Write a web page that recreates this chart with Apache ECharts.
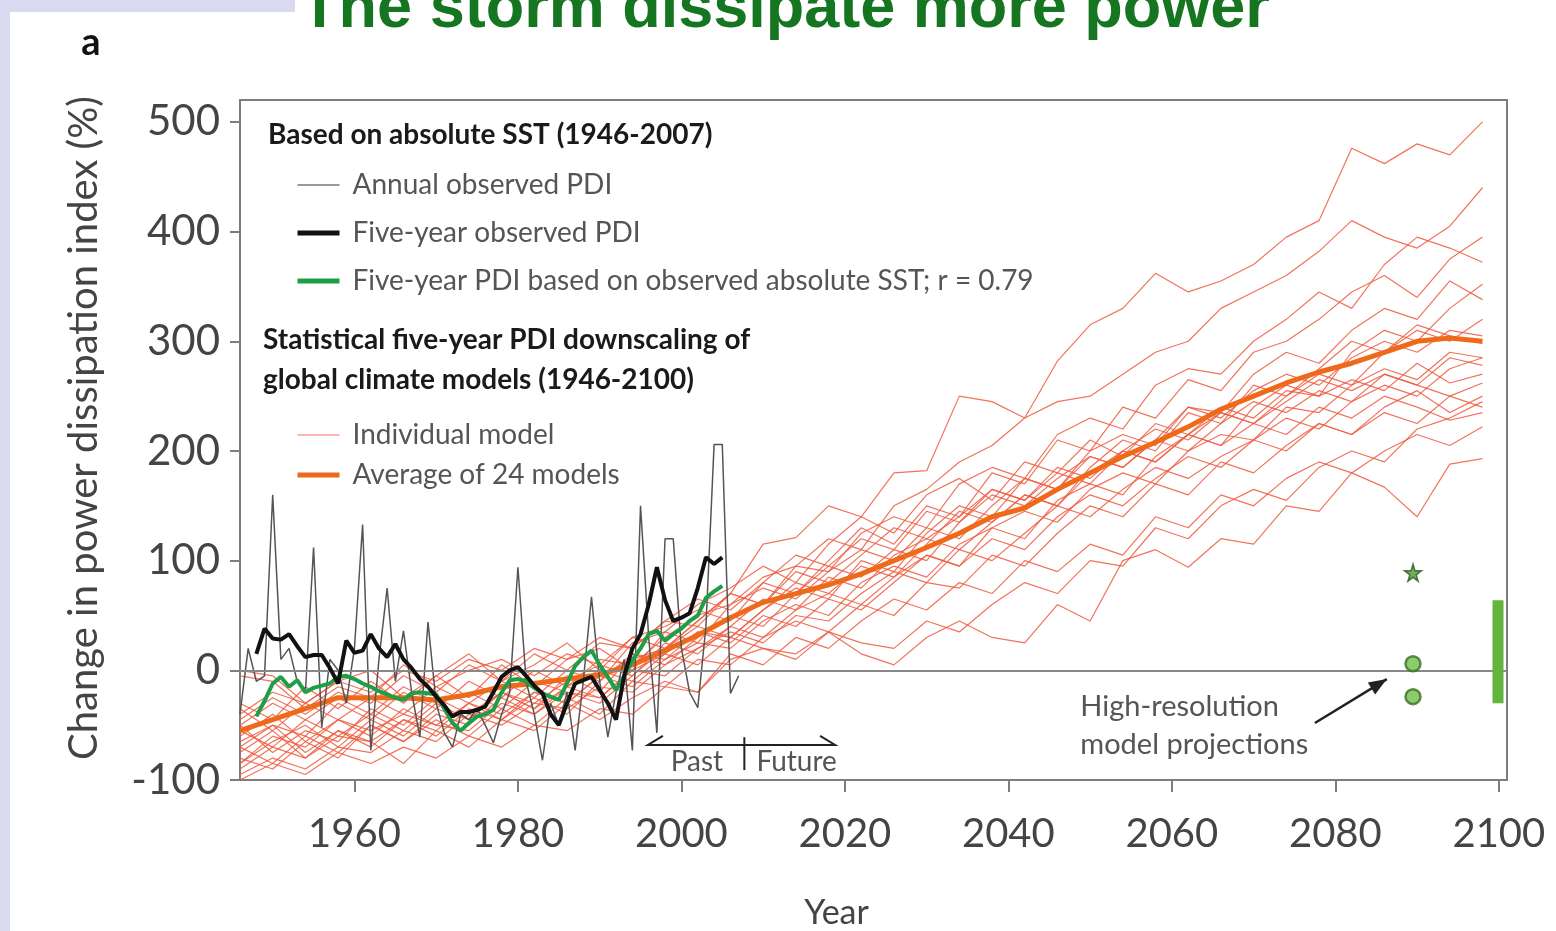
<!DOCTYPE html>
<html>
<head>
<meta charset="utf-8">
<title>The storm dissipate more power</title>
<script src="https://cdn.jsdelivr.net/npm/echarts@6.0.0/dist/echarts.min.js"></script>
<style>
  html, body { margin: 0; padding: 0; background: #fff; }
  #chart { width: 1556px; height: 931px; }
</style>
</head>
<body>
<div id="chart"></div>
<script>
// values (change in PDI, %)
const annualStart = 1946
const annualPDI = [-40, 20, -10, -5, 160, 10, 20, -10, -20, 112,
  -52, 10, 0, -30, 20, 133, -73, 10, 75, -10,
  36, -20, -61, 44, -30, -57, -70, -40, -45, -35,
  -50, -66, -40, -20, 94, -10, -40, -82, -30, -50,
  -20, -73, -10, 67, -10, -61, -20, 10, -73, 150,
  30, -57, 120, 120, 20, -20, -34, 40, 206, 206,
  -21, -5]

const fiveYearStart = 1948
const fiveYearPDI = [15, 38, 29, 28, 33, 22, 12, 14, 14, 2,
  -12, 27, 16, 18, 33, 20, 12, 24, 10, 2,
  -8, -15, -24, -32, -42, -38, -38, -36, -33, -20,
  -6, 0, 3, -5, -14, -21, -40, -50, -30, -12,
  -9, -6, -18, -30, -45, -5, 20, 33, 60, 94,
  64, 45, 48, 52, 75, 103, 97, 103]
const fiveYearSST = [-42, -28, -12, -6, -15, -9, -20, -16, -14, -12,
  -6, -5, -8, -12, -15, -19, -22, -25, -27, -21,
  -20, -21, -22, -35, -48, -55, -48, -42, -40, -36,
  -20, -9, -8, -10, -16, -21, -24, -27, -12, 4,
  12, 18, 5, -6, -18, -5, 9, 20, 33, 36,
  27, 33, 38, 45, 50, 66, 72, 77]

const modelYears = [1946, 1950, 1954, 1958, 1962, 1966, 1970, 1974, 1978, 1982,
  1986, 1990, 1994, 1998, 2002, 2006, 2010, 2014, 2018, 2022,
  2026, 2030, 2034, 2038, 2042, 2046, 2050, 2054, 2058, 2062,
  2066, 2070, 2074, 2078, 2082, 2086, 2090, 2094, 2098]
const modelAverage = [-55, -45, -35, -25, -25, -25, -27, -22, -15, -12,
  -8, -4, 5, 18, 32, 48, 62, 70, 78, 88,
  100, 112, 125, 140, 148, 165, 180, 195, 208, 222,
  238, 250, 262, 272, 280, 290, 300, 303, 300]

const model01 = [-40, -20, -30, -10, -20, 0, -10, 10, 0, 20, 10, 30, 20, 45, 40, 70, 115, 121, 150, 140, 180, 182, 250, 245, 230, 282, 315, 330, 362, 345, 355, 370, 395, 410, 476, 462, 480, 470, 500]
const model02 = [-70, -50, -60, -30, -45, -20, -35, -10, -25, 0, -15, 10, 5, 30, 50, 60, 85, 95, 120, 110, 150, 165, 190, 205, 230, 245, 250, 270, 290, 300, 330, 345, 360, 382, 410, 395, 385, 405, 440]
const model03 = [0, -5, -30, -10, 0, -25, -5, 15, -10, 5, 25, 0, 30, 40, 55, 45, 80, 70, 100, 130, 115, 150, 140, 180, 170, 210, 200, 240, 230, 265, 255, 290, 300, 320, 345, 360, 340, 375, 395]
const model04 = [-85, -60, -70, -45, -55, -40, -50, -30, -40, -20, -30, -5, 10, 20, 45, 70, 60, 95, 90, 125, 140, 130, 170, 185, 175, 215, 230, 220, 260, 275, 270, 300, 320, 345, 330, 370, 395, 385, 372]
const model05 = [-50, -75, -55, -65, -35, -50, -25, -40, -20, -35, -5, -20, 15, 10, 35, 30, 55, 75, 65, 100, 90, 125, 150, 140, 175, 165, 200, 215, 205, 240, 235, 270, 290, 280, 310, 330, 320, 355, 338]
const model06 = [-95, -80, -90, -70, -75, -55, -65, -40, -50, -30, -35, -15, -20, 5, 20, 40, 30, 55, 70, 60, 85, 105, 95, 130, 145, 135, 165, 180, 170, 200, 215, 210, 240, 235, 260, 275, 265, 290, 285]
const model07 = [-30, -45, -15, -35, -10, -30, -5, -25, 5, -15, 10, 20, 0, 35, 60, 75, 95, 80, 115, 140, 125, 160, 175, 155, 190, 180, 210, 195, 225, 215, 240, 230, 255, 250, 265, 255, 280, 262, 270]
const model08 = [-60, -40, -65, -45, -60, -35, -50, -55, -30, -40, -20, -25, 0, -5, 20, 35, 25, 50, 45, 70, 90, 80, 110, 100, 125, 150, 140, 165, 185, 175, 195, 210, 200, 225, 215, 240, 255, 235, 250]
const model09 = [-80, -90, -65, -80, -50, -65, -45, -60, -35, -50, -25, -40, -10, -15, 10, 5, 30, 45, 35, 60, 50, 80, 75, 105, 95, 125, 150, 140, 170, 160, 190, 180, 205, 225, 215, 235, 225, 250, 240]
const model10 = [-45, -25, -40, -20, -30, -5, -20, 5, -10, 15, 0, 25, 20, 45, 65, 55, 80, 105, 95, 120, 110, 145, 135, 165, 155, 185, 175, 200, 190, 215, 205, 225, 215, 240, 230, 250, 240, 228, 235]
const model11 = [-100, -85, -95, -75, -85, -70, -80, -60, -70, -50, -55, -35, -40, -15, -20, 10, 20, 15, 35, 15, 5, 30, 45, 30, 25, 60, 45, 100, 110, 94, 120, 115, 150, 145, 180, 167, 140, 188, 193]
const model12 = [-65, -50, -75, -55, -70, -45, -60, -35, -45, -25, -40, -10, 15, 5, 30, 50, 40, 70, 95, 85, 110, 100, 135, 160, 150, 175, 195, 185, 210, 200, 225, 245, 235, 255, 245, 270, 260, 250, 262]
const model13 = [-75, -55, -80, -60, -65, -85, -55, -70, -45, -55, -30, -45, -25, -10, -20, 15, 5, 30, 20, 45, 65, 55, 80, 70, 100, 90, 115, 105, 140, 130, 160, 150, 175, 190, 180, 200, 215, 205, 222]
const model14 = [-35, -55, -30, -45, -25, -40, -15, -30, -10, -25, 0, -10, 25, 35, 25, 60, 75, 65, 90, 110, 100, 130, 120, 150, 175, 165, 195, 185, 210, 240, 230, 255, 270, 260, 285, 300, 290, 310, 305]
const model15 = [-55, -70, -45, -60, -40, -55, -30, -45, -20, -30, -10, 5, -5, 25, 15, 40, 65, 55, 85, 75, 105, 120, 110, 135, 160, 150, 180, 200, 190, 215, 235, 225, 250, 270, 260, 290, 310, 300, 320]
const model16 = [-90, -70, -80, -55, -65, -45, -55, -30, -45, -20, -30, -5, -15, 10, 25, 20, 45, 60, 50, 80, 95, 85, 115, 130, 120, 155, 170, 160, 195, 215, 205, 240, 260, 250, 290, 310, 300, 330, 352]
const model17 = [-5, -10, -35, -15, -25, 5, -15, 0, 10, -5, 15, 5, 30, 20, 45, 70, 60, 90, 80, 105, 130, 120, 140, 165, 155, 180, 170, 200, 220, 210, 235, 225, 245, 265, 255, 270, 260, 285, 278]
const model18 = [-70, -85, -60, -75, -50, -65, -40, -50, -25, -40, -15, -25, 0, 15, 5, 30, 20, 10, 35, 25, 20, 45, 35, 60, 80, 70, 100, 95, 130, 120, 150, 165, 155, 185, 200, 190, 220, 230, 245]
const model19 = [-50, -30, -45, -25, -40, -15, -30, -20, -35, -10, -20, -30, -5, 20, 40, 30, 55, 80, 70, 95, 85, 115, 145, 135, 160, 150, 185, 210, 200, 235, 225, 260, 250, 275, 300, 290, 315, 305, 298]
const model20 = [-85, -65, -50, -70, -45, -60, -35, -45, -20, -35, -15, 0, -10, 15, 35, 25, 50, 40, 65, 55, 80, 105, 95, 120, 110, 140, 160, 150, 175, 195, 185, 210, 230, 220, 245, 260, 250, 275, 285]

// high-resolution model projections
const hiResYear = 2089.5
const hiResStar = [89]
const hiResDots = [6, -24]
const rangeYear = 2099.9
const rangeBar = [-30, 64]

const xTicks = [1960, 1980, 2000, 2020, 2040, 2060, 2080, 2100]
const yTicks = [-100, 0, 100, 200, 300, 400, 500]

const models = [model01, model02, model03, model04, model05, model06, model07, model08, model09, model10,
  model11, model12, model13, model14, model15, model16, model17, model18, model19, model20]

const byYear = (start, arr) => arr.map((v, i) => [start + i, v])
const onModelYears = arr => modelYears.map((y, i) => [y, arr[i]])

const textColor = '#444'
const frameColor = '#7d7d7d'
const starPath = 'path://M50,0 L61,35 L98,35 L68,57 L79,91 L50,70 L21,91 L32,57 L2,35 L39,35 Z'

const chart = echarts.init(document.getElementById('chart'))

const series = []
models.forEach(m => {
  series.push({
    name: 'Individual model',
    type: 'line',
    data: onModelYears(m),
    symbol: 'none',
    silent: true,
    z: 2,
    itemStyle: { color: '#ee5a3e' },
    lineStyle: { width: 1.2, color: '#ef5b40', opacity: 0.85 }
  })
})
series.push({
  name: 'Average of 24 models',
  type: 'line',
  data: onModelYears(modelAverage),
  symbol: 'none',
  z: 3,
  itemStyle: { color: '#ee6a1a' },
  lineStyle: { width: 5, color: '#ee6a1a' }
})
series.push({
  name: 'zero',
  type: 'line',
  data: [],
  z: 1,
  markLine: {
    silent: true,
    symbol: 'none',
    label: { show: false },
    lineStyle: { color: '#888', width: 2, type: 'solid' },
    data: [{ yAxis: 0 }]
  }
})
series.push({
  name: 'Annual observed PDI',
  type: 'line',
  data: byYear(annualStart, annualPDI),
  symbol: 'none',
  z: 4,
  itemStyle: { color: '#555' },
  lineStyle: { width: 1.5, color: '#555' }
})
series.push({
  name: 'Five-year PDI based on observed absolute SST; r = 0.79',
  type: 'line',
  data: byYear(fiveYearStart, fiveYearSST),
  symbol: 'none',
  z: 5,
  itemStyle: { color: '#1f9e48' },
  lineStyle: { width: 4, color: '#1f9e48' }
})
series.push({
  name: 'Five-year observed PDI',
  type: 'line',
  data: byYear(fiveYearStart, fiveYearPDI),
  symbol: 'none',
  z: 6,
  itemStyle: { color: '#111' },
  lineStyle: { width: 4, color: '#111' }
})
series.push({
  name: 'hi-res star',
  type: 'scatter',
  z: 7,
  symbol: starPath,
  symbolSize: 17,
  itemStyle: { color: '#4a9a34', borderColor: '#2c5a1c', borderWidth: 1.5 },
  data: hiResStar.map(v => [hiResYear, v])
})
series.push({
  name: 'hi-res dots',
  type: 'scatter',
  z: 7,
  symbol: 'circle',
  symbolSize: 15,
  itemStyle: { color: '#6fbf4a', borderColor: '#3b7227', borderWidth: 2.5 },
  data: hiResDots.map(v => [hiResYear, v])
})
series.push({
  name: 'range',
  type: 'line',
  z: 7,
  symbol: 'none',
  lineStyle: { width: 11, color: '#62b43c', cap: 'butt' },
  data: rangeBar.map(v => [rangeYear, v])
})

const legendText = { fontSize: 28, color: '#555', lineHeight: 30, padding: [0, 0, 0, 8] }

chart.setOption({
  animation: false,
  backgroundColor: '#fff',
  textStyle: { fontFamily: 'Lato' },
  grid: {
    left: 240, right: 49, top: 100, bottom: 151,
    outerBoundsMode: 'none',
    show: true, borderColor: frameColor, borderWidth: 2
  },
  legend: [{
    data: [
      { name: 'Annual observed PDI', lineStyle: { width: 1.5, color: '#777' } },
      { name: 'Five-year observed PDI', lineStyle: { width: 5, color: '#111' } },
      { name: 'Five-year PDI based on observed absolute SST; r = 0.79', lineStyle: { width: 5, color: '#1f9e48' } }
    ],
    orient: 'vertical', left: 290, top: 165, itemGap: 18, itemWidth: 42, itemHeight: 14,
    selectedMode: false,
    itemStyle: { opacity: 0 },
    textStyle: legendText
  }, {
    data: [
      { name: 'Individual model', lineStyle: { width: 1.5, color: '#f2907c' } },
      { name: 'Average of 24 models', lineStyle: { width: 5, color: '#ee6a1a' } }
    ],
    orient: 'vertical', left: 290, top: 415, itemGap: 10, itemWidth: 42, itemHeight: 14,
    selectedMode: false,
    itemStyle: { opacity: 0 },
    textStyle: legendText
  }],
  xAxis: {
    type: 'value', min: 1946, max: 2101,
    name: 'Year', nameLocation: 'middle', nameGap: 116,
    nameTextStyle: { fontSize: 34, color: textColor, padding: [0, 74, 0, 0] },
    axisLine: { show: true, onZero: false, lineStyle: { color: frameColor, width: 2 } },
    axisTick: { show: true, customValues: xTicks, length: 12, lineStyle: { color: frameColor, width: 2 } },
    axisLabel: { customValues: xTicks, fontSize: 40, color: textColor, margin: 34, formatter: v => String(v) },
    splitLine: { show: false }
  },
  yAxis: {
    type: 'value', min: -100, max: 520,
    name: 'Change in power dissipation index (%)', nameLocation: 'middle', nameGap: 136,
    nameTextStyle: { fontSize: 40, color: textColor, padding: [0, 0, 0, 24] },
    axisLine: { show: true, onZero: false, lineStyle: { color: frameColor, width: 2 } },
    axisTick: { show: true, customValues: yTicks, length: 10, lineStyle: { color: frameColor, width: 2 } },
    axisLabel: { customValues: yTicks, fontSize: 42, color: textColor, margin: 20, formatter: v => String(v) },
    splitLine: { show: false }
  },
  series: series
})

// annotations placed from data coordinates
const px = (x, y) => chart.convertToPixel({ gridIndex: 0 }, [x, y])

function arrowHead(tip, from, len, half) {
  const dx = tip[0] - from[0], dy = tip[1] - from[1]
  const d = Math.hypot(dx, dy)
  const ux = dx / d, uy = dy / d
  const bx = tip[0] - ux * len, by = tip[1] - uy * len
  return [tip, [bx - uy * half, by + ux * half], [bx + uy * half, by - ux * half]]
}

const pastTip = px(1995.9, -68)
const futureTip = px(2018.8, -68)
const divTop = px(2007.7, -61)
const divBot = px(2007.7, -91)
const pastLbl = px(2001.9, -84)
const futureLbl = px(2014.1, -84)
const hiResLbl1 = px(2048.8, -33)
const hiResLbl2 = px(2048.8, -68)
const arrowFrom = px(2077.5, -48)
const arrowTo = px(2086.3, -8)

chart.setOption({
  graphic: [
    { type: 'rect', shape: { x: 0, y: 0, width: 10, height: 931 }, style: { fill: '#d9d9ef' }, silent: true },
    { type: 'rect', shape: { x: 0, y: 0, width: 295, height: 12 }, style: { fill: '#d9d9ef' }, silent: true },
    {
      type: 'text', x: 785, y: 10, silent: true,
      style: { text: 'The storm dissipate more power', font: 'bold 63px "Liberation Sans", Arial', fill: '#157520', textAlign: 'center', textVerticalAlign: 'middle' }
    },
    {
      type: 'text', x: 91, y: 43, silent: true,
      style: { text: 'a', font: 'bold 38px Lato', fill: '#111', textAlign: 'center', textVerticalAlign: 'middle' }
    },
    {
      type: 'text', x: 268, y: 135, silent: true,
      style: { text: 'Based on absolute SST (1946-2007)', font: 'bold 28px Lato', fill: '#1a1a1a', textVerticalAlign: 'middle' }
    },
    {
      type: 'text', x: 263, y: 340, silent: true,
      style: { text: 'Statistical five-year PDI downscaling of', font: 'bold 28px Lato', fill: '#1a1a1a', textVerticalAlign: 'middle' }
    },
    {
      type: 'text', x: 263, y: 380, silent: true,
      style: { text: 'global climate models (1946-2100)', font: 'bold 28px Lato', fill: '#1a1a1a', textVerticalAlign: 'middle' }
    },
    // Past | Future
    {
      type: 'polyline', silent: true,
      shape: { points: [[pastTip[0] + 15, pastTip[1] - 9], pastTip, futureTip, [futureTip[0] - 15, futureTip[1] - 9]] },
      style: { stroke: '#222', lineWidth: 2, fill: null }
    },
    {
      type: 'line', silent: true,
      shape: { x1: divTop[0], y1: divTop[1], x2: divBot[0], y2: divBot[1] },
      style: { stroke: '#222', lineWidth: 2 }
    },
    {
      type: 'text', x: pastLbl[0], y: pastLbl[1], silent: true,
      style: { text: 'Past', font: '28px Lato', fill: '#555', textAlign: 'center', textVerticalAlign: 'middle' }
    },
    {
      type: 'text', x: futureLbl[0], y: futureLbl[1], silent: true,
      style: { text: 'Future', font: '28px Lato', fill: '#555', textAlign: 'center', textVerticalAlign: 'middle' }
    },
    // high-resolution note
    {
      type: 'text', x: hiResLbl1[0], y: hiResLbl1[1], silent: true,
      style: { text: 'High-resolution', font: '29px Lato', fill: '#555', textVerticalAlign: 'middle' }
    },
    {
      type: 'text', x: hiResLbl2[0], y: hiResLbl2[1], silent: true,
      style: { text: 'model projections', font: '29px Lato', fill: '#555', textVerticalAlign: 'middle' }
    },
    {
      type: 'line', silent: true,
      shape: { x1: arrowFrom[0], y1: arrowFrom[1], x2: arrowTo[0], y2: arrowTo[1] },
      style: { stroke: '#222', lineWidth: 2.5 }
    },
    {
      type: 'polygon', silent: true,
      shape: { points: arrowHead(arrowTo, arrowFrom, 18, 7) },
      style: { fill: '#222' }
    }
  ]
})
</script>
</body>
</html>
